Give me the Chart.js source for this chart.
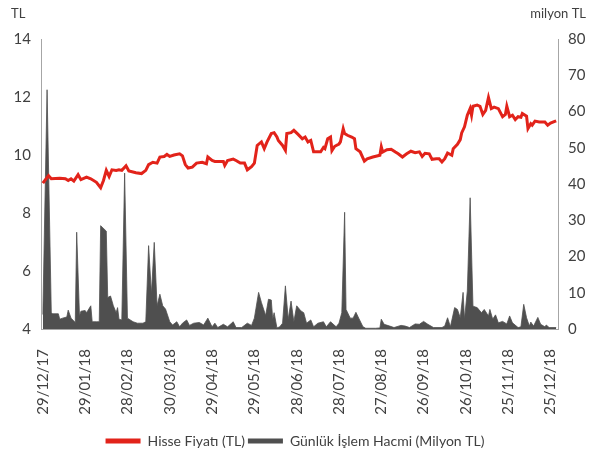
<!DOCTYPE html>
<html>
<head>
<meta charset="utf-8">
<script src="https://cdn.jsdelivr.net/npm/chart.js@4/dist/chart.umd.min.js"></script>
<style>
  html, body { margin: 0; padding: 0; background: #ffffff; }
  #wrap { width: 590px; height: 453px; position: relative; }
</style>
</head>
<body>
<div id="wrap"><canvas id="c" width="590" height="453"></canvas></div>
<script>
// X axis tick labels (every 30 days from 29/12/17)
const tickLabels = ['29/12/17','29/01/18','28/02/18','30/03/18','29/04/18','29/05/18','28/06/18','28/07/18','27/08/18','26/09/18','26/10/18','25/11/18','25/12/18'];

// Share price (TL): day offset from 29/12/17 and value
const priceDays = [0,4,6,12,16,18,20,22,25,27,31,34,38,41,43,45,47,49,52,54,56,59,61,66,70,73,75,78,81,83,86,88,90,93,97,99,101,103,106,109,113,116,117,120,122,128,129,131,135,137,140,143,145,148,150,152,155,157,159,162,164,166,167,170,172,173,176,178,181,184,186,188,190,192,197,199,200,202,204,205,207,210,211,213,214,216,219,221,222,225,228,230,234,239,240,241,244,247,250,252,255,258,261,264,267,269,271,274,276,279,281,283,285,287,290,291,294,296,297,299,301,303,304,305,308,310,312,314,316,318,320,323,326,328,329,331,333,335,337,339,340,343,344,346,347,349,352,356,358,360,363,364];
const priceValues = [9.03,9.29,9.18,9.20,9.18,9.12,9.18,9.10,9.32,9.15,9.24,9.18,9.06,8.87,9.12,9.47,9.26,9.49,9.47,9.49,9.47,9.63,9.45,9.39,9.36,9.47,9.67,9.75,9.72,9.93,9.95,10.02,9.95,10.00,10.04,9.97,9.67,9.55,9.58,9.72,9.75,9.70,9.93,9.81,9.78,9.78,9.64,9.81,9.86,9.81,9.72,9.72,9.49,9.60,9.72,10.33,10.45,10.22,10.45,10.74,10.77,10.62,10.50,10.33,10.16,10.74,10.77,10.85,10.71,10.56,10.62,10.45,10.50,10.11,10.11,10.26,10.22,10.56,10.62,10.15,10.30,10.38,10.45,10.91,10.74,10.68,10.62,10.56,10.22,10.11,9.79,9.87,9.93,9.99,10.28,10.10,10.18,10.20,10.10,10.04,9.93,10.04,10.13,10.08,10.11,9.95,10.06,10.04,9.85,9.87,9.87,9.76,9.87,10.07,9.99,10.22,10.37,10.53,10.76,10.97,11.37,11.60,11.37,11.68,11.72,11.68,11.40,11.54,11.98,11.60,11.65,11.60,11.32,11.40,11.68,11.32,11.37,11.22,11.32,11.30,11.43,11.34,10.91,11.08,11.03,11.17,11.14,11.14,11.03,11.10,11.16,11.18];

// Daily trading volume (million TL): day offset and value
const volumeDays = [0,3,6,7,11,12,14,17,18,20,23,24,26,27,30,31,34,35,38,40,41,45,46,48,50,52,53,54,56,58,60,64,67,71,73,75,77,79,81,83,85,87,90,92,95,97,99,102,104,107,111,114,117,120,122,124,128,131,135,137,141,145,148,150,153,155,158,160,162,163,164,166,168,170,172,174,176,178,180,183,185,187,190,192,195,199,201,204,208,210,212,214,215,218,220,222,224,227,229,236,239,240,242,246,249,254,257,260,264,267,270,273,277,283,285,287,289,292,294,296,298,299,301,303,305,308,311,313,316,317,319,321,323,326,329,331,333,337,339,341,343,345,346,348,351,353,356,357,359,364];
const volumeValues = [4,66,4.5,4.2,4.2,2.7,3.0,3.3,5.2,3.0,1.8,26.7,3.5,4.9,5.1,4.5,6.4,2.0,2.0,2.0,28.5,27.0,8.7,9.1,6.4,4.5,5.9,2.7,2.5,43,3.0,2.0,1.6,1.6,2.0,23.0,9.7,23.9,6.4,9.6,6.4,5.5,2.0,1.1,2.0,0.6,1.6,2.5,1.0,1.6,1.8,1.1,3.0,0.6,1.6,0.4,1.3,0.6,2.0,0.4,0.4,1.6,1.0,3.0,10.1,7.3,3.7,8.2,8.0,2.7,4.5,0.3,0.6,1.6,11.9,2.7,7.7,2.0,6.4,5.0,4.5,1.6,2.5,0.6,1.6,2.0,0.6,2.0,0.6,1.6,4.5,32.2,5.4,3.0,3.0,4.6,3.0,0.6,0.2,0.2,0.3,2.7,1.3,0.8,0.4,1.0,0.8,0.4,1.4,1.3,2.1,1.3,0.4,0.4,0.8,3.1,0.6,5.9,5.4,3.1,10.1,2.7,10.5,36.2,6.3,5.9,4.5,5.4,3.6,5.4,2.7,3.9,1.7,2.1,1.4,3.6,1.7,0.4,0.6,6.8,3.1,0.8,1.9,0.8,3.2,1.3,0.6,1.1,0.4,0.4];

const FONT = 'Lato, "Open Sans", sans-serif';
const TXT = '#404040';
const AXIS = '#a6a6a6';

const pricePts = priceDays.map((d, i) => ({ x: d, y: priceValues[i] }));
const volPts = volumeDays.map((d, i) => ({ x: d, y: volumeValues[i] }));

const titlePlugin = {
  id: 'axisTitles',
  afterDraw(chart) {
    const ctx = chart.ctx;
    ctx.save();
    ctx.fillStyle = TXT;
    ctx.font = '13px ' + FONT;
    ctx.textBaseline = 'middle';
    ctx.textAlign = 'left';
    ctx.fillText('TL', 11, 14);
    ctx.textAlign = 'right';
    ctx.fillText('milyon TL', 586, 14);
    ctx.restore();
  }
};

new Chart(document.getElementById('c'), {
  type: 'line',
  data: {
    datasets: [
      {
        label: 'Hisse Fiyatı (TL)',
        data: pricePts,
        yAxisID: 'y',
        borderColor: '#e2231a',
        backgroundColor: '#e2231a',
        borderWidth: 3,
        pointRadius: 0,
        tension: 0,
        fill: false
      },
      {
        label: 'Günlük İşlem Hacmi (Milyon TL)',
        data: volPts,
        yAxisID: 'y1',
        borderColor: '#4f4f4f',
        backgroundColor: '#4f4f4f',
        borderWidth: 0.8,
        pointRadius: 0,
        tension: 0,
        fill: 'origin'
      }
    ]
  },
  options: {
    responsive: false,
    animation: false,
    devicePixelRatio: 1,
    layout: { padding: { top: 39, left: 0, right: 0, bottom: -5 } },
    plugins: {
      tooltip: { enabled: false },
      legend: {
        position: 'bottom',
        labels: {
          font: { family: FONT, size: 14 },
          color: TXT,
          boxWidth: 35,
          boxHeight: 5,
          padding: 3,
          generateLabels(chart) {
            const items = Chart.defaults.plugins.legend.labels.generateLabels(chart);
            items.forEach(it => { it.lineWidth = 0; it.strokeStyle = 'rgba(0,0,0,0)'; });
            return items;
          }
        }
      }
    },
    scales: {
      x: {
        type: 'linear',
        min: -1.3,
        max: 365.3,
        grid: { display: false, drawTicks: false },
        border: { display: true, color: AXIS, width: 1 },
        afterBuildTicks(scale) {
          scale.ticks = tickLabels.map((_, i) => ({ value: i * 30 }));
        },
        afterFit(scale) { scale.height = 102; },
        ticks: {
          autoSkip: false,
          minRotation: 90,
          maxRotation: 90,
          padding: 20,
          font: { family: FONT, size: 15 },
          color: TXT,
          callback: (v) => tickLabels[Math.round(v / 30)]
        }
      },
      y: {
        position: 'left',
        min: 4,
        max: 14,
        grid: { display: false, drawTicks: false },
        border: { display: true, color: AXIS, width: 1 },
        afterFit(scale) { scale.width = 41; },
        ticks: {
          stepSize: 2,
          padding: 10,
          font: { family: FONT, size: 15 },
          color: TXT
        }
      },
      y1: {
        position: 'right',
        min: 0,
        max: 80,
        grid: { display: false, drawTicks: false },
        border: { display: true, color: AXIS, width: 1 },
        afterFit(scale) { scale.width = 32; },
        ticks: {
          stepSize: 10,
          padding: 10,
          font: { family: FONT, size: 15 },
          color: TXT
        }
      }
    }
  },
  plugins: [titlePlugin]
});
</script>
</body>
</html>
